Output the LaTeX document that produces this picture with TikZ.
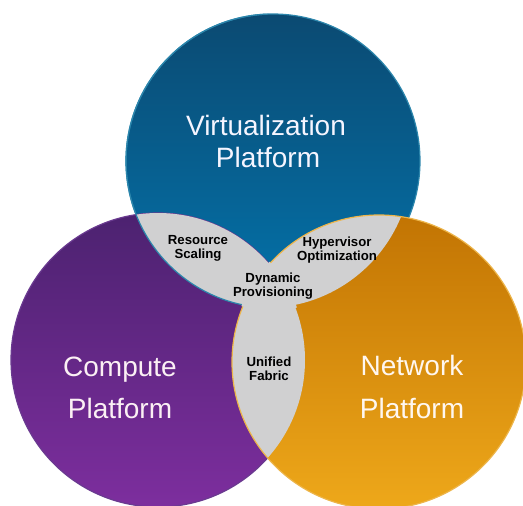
\documentclass[tikz,border=0pt]{standalone}
\usepackage{fontspec}
\setmainfont{Liberation Sans}
\definecolor{overlapgray}{HTML}{D0D0D1}
\definecolor{blueA}{HTML}{0B4A72}
\definecolor{blueB}{HTML}{0373AB}
\definecolor{blueEdge}{HTML}{2C86AC}
\definecolor{purpleA}{HTML}{4C2270}
\definecolor{purpleB}{HTML}{7D2E9E}
\definecolor{purpleEdge}{HTML}{6A3A90}
\definecolor{orangeA}{HTML}{C27403}
\definecolor{orangeB}{HTML}{EEA81A}
\definecolor{orangeEdge}{HTML}{EDB54A}
\tikzset{
  bigtext/.style={align=center,inner sep=0pt,font=\fontsize{28}{#1}\selectfont},
  smalltext/.style={text=black,align=center,inner sep=0pt,font=\bfseries\fontsize{13.2}{14}\selectfont},
  rim/.style={line width=1.2pt,draw=#1},
}
\def\ctop{(273,161) circle[radius=147pt]}
\def\ctopinner{(265,161) circle[radius=147pt]}
\def\cleft{(158,360) circle[radius=147pt]}
\def\cright{(379,362) circle[radius=147pt]}
\def\ctopx{(273,161) circle[radius=148.5pt]}
\def\cleftx{(158,360) circle[radius=148.5pt]}
\def\crightx{(379,362) circle[radius=148.5pt]}
\begin{document}
\begin{tikzpicture}[x=1pt,y=-1pt]
\useasboundingbox (0,0) rectangle (523,506);
\clip (0,0) rectangle (523,506);
% discs, each with its rim under the next disc
\shade[top color=blueA,bottom color=blueB] \ctop;
\draw[rim=blueEdge] \ctop;
\shade[top color=purpleA,bottom color=purpleB] \cleft;
\draw[rim=purpleEdge] \cleft;
\shade[top color=orangeA,bottom color=orangeB] \cright;
% overlaps
\begin{scope}
  \clip \ctop;
  \fill[overlapgray] \cleft;
\end{scope}
\begin{scope}
  \clip \ctopinner;
  \fill[overlapgray] \cright;
\end{scope}
\begin{scope}
  \clip \cleft;
  \fill[overlapgray] \cright;
\end{scope}
% rims that stay visible over the grey
\begin{scope}
  \clip (0,0) rectangle (268,506);
  \draw[rim=blueEdge] \ctop;
\end{scope}
\draw[rim=orangeEdge] \cright;
% the centre of the figure carries no rim
\begin{scope}
  \clip \ctopx;
  \clip \cleftx;
  \fill[overlapgray] \crightx;
\end{scope}
% labels
\node[bigtext=32,text=blue!4!white] (virt) at (266,141) {Virtualization\\\hspace*{4pt}Platform};
\node[bigtext=42,text=purple!6!white] (comp) at (120,388) {Compute\\Platform};
\node[bigtext=43,text=orange!6!white] (netw) at (412,387) {Network\\Platform};
\node[smalltext] (res) at (198,248) {Resource\\Scaling};
\node[smalltext] (hyp) at (337,250.5) {Hypervisor\\Optimization};
\node[smalltext] (dyn) at (273,286) {Dynamic\\Provisioning};
\node[smalltext] (uni) at (269,369) {Unified\\Fabric};
\end{tikzpicture}
\end{document}
